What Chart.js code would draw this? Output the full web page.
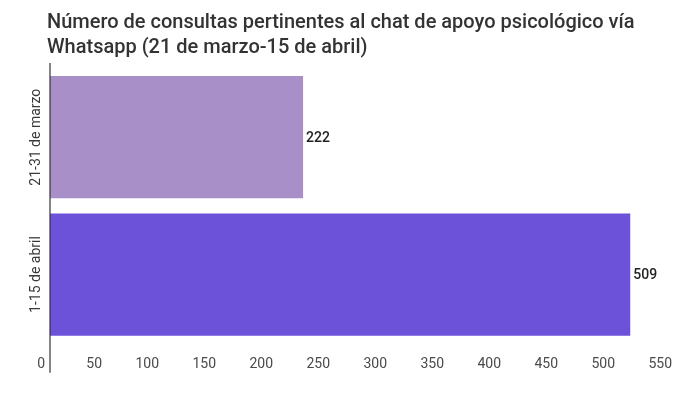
<!DOCTYPE html>
<html>
<head>
<meta charset="utf-8">
<script src="https://cdn.jsdelivr.net/npm/chart.js@4"></script>
<style>
html,body{margin:0;padding:0;background:#fff;}
#wrap{width:700px;height:398px;position:relative;}
</style>
</head>
<body>
<div id="wrap"><canvas id="c" width="700" height="398"></canvas></div>
<script>
const titleLines = ['Número de consultas pertinentes al chat de apoyo psicológico vía', 'Whatsapp (21 de marzo-15 de abril)'];
const categories = ['21-31 de marzo', '1-15 de abril'];
const values = [222, 509];
const barColors = ['#a98fc8', '#6b52d9'];
const xMin = 0;
const xMax = 550;
const xStep = 50;

const extras = {
  id: 'extras',
  afterDatasetsDraw(chart) {
    const ctx = chart.ctx;
    const area = chart.chartArea;
    const meta = chart.getDatasetMeta(0);
    ctx.save();
    // value labels
    ctx.font = '500 14px Roboto';
    ctx.fillStyle = '#222';
    ctx.textAlign = 'left';
    ctx.textBaseline = 'middle';
    meta.data.forEach((bar, i) => {
      ctx.fillText(String(values[i]), bar.x + 3, bar.y + 1);
    });
    // category labels (rotated)
    ctx.font = '14px Roboto';
    ctx.fillStyle = '#3a3a3a';
    ctx.textAlign = 'center';
    const yScale = chart.scales.y;
    categories.forEach((c, i) => {
      const y = yScale.getPixelForValue(i);
      ctx.save();
      ctx.translate(area.left - 14, y);
      ctx.rotate(-Math.PI / 2);
      ctx.fillText(c, 0, 0);
      ctx.restore();
    });
    // axis line
    ctx.strokeStyle = '#333';
    ctx.lineWidth = 1.2;
    ctx.beginPath();
    ctx.moveTo(area.left, area.top - 5.5);
    ctx.lineTo(area.left, area.bottom + 29.5);
    ctx.stroke();
    ctx.restore();
  }
};

new Chart(document.getElementById('c'), {
  type: 'bar',
  data: {
    labels: categories,
    datasets: [{
      data: values,
      backgroundColor: barColors,
      borderWidth: 0,
      categoryPercentage: 0.89,
      barPercentage: 1
    }]
  },
  options: {
    indexAxis: 'y',
    responsive: false,
    animation: false,
    devicePixelRatio: 1,
    layout: { padding: { left: 47, right: 23, top: 0, bottom: 12 } },
    plugins: {
      legend: { display: false },
      tooltip: { enabled: false },
      title: {
        display: true,
        text: titleLines,
        align: 'start',
        color: '#333',
        font: { family: 'Roboto', size: 20, weight: '500', lineHeight: 1.25 },
        padding: { top: 10.5, bottom: 8 }
      }
    },
    scales: {
      x: {
        type: 'linear',
        min: xMin,
        max: xMax,
        grid: { display: false, drawTicks: false },
        border: { display: false },
        ticks: {
          stepSize: xStep,
          align: 'end',
          padding: 13,
          color: '#4a4a4a',
          font: { family: 'Roboto', size: 14 },
          callback: (v) => v + ' \u200A'
        }
      },
      y: {
        grid: { display: false, drawTicks: false },
        border: { display: false },
        ticks: { display: false },
        afterFit: (s) => { s.width = 3; }
      }
    }
  },
  plugins: [extras]
});
</script>
</body>
</html>
